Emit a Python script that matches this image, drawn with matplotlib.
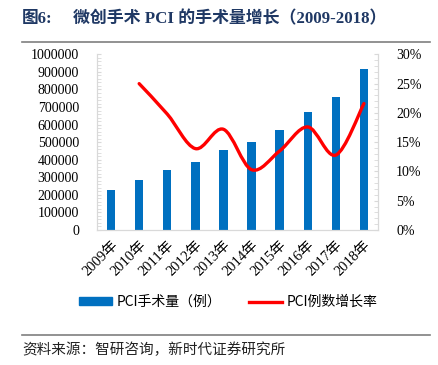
import numpy as np
import matplotlib.pyplot as plt
from matplotlib.path import Path
from matplotlib.patches import PathPatch, Patch
from matplotlib.lines import Line2D
from matplotlib.ticker import MultipleLocator, FuncFormatter

# data
years = ["2009年", "2010年", "2011年", "2012年", "2013年",
         "2014年", "2015年", "2016年", "2017年", "2018年"]
cases = [228000, 285000, 342000, 389000, 456000,
         503000, 570000, 671000, 756000, 917000]
growth = [np.nan, 25.0, 19.8, 13.9, 17.2, 10.3, 13.5, 17.6, 12.8, 21.6]

serif_cjk = ['Liberation Serif', 'Noto Sans CJK SC']
sans_cjk = ['Noto Sans CJK SC', 'DejaVu Sans']
grey = '#D9D9D9'

fig = plt.figure(figsize=(4.38, 3.65), dpi=100)
ax = fig.add_axes([0.2215, 0.370, 0.6415, 0.481])

x = np.arange(len(years))
ax.bar(x, cases, width=0.3, color='#0070C0', zorder=2)
ax.set_xlim(-0.5, len(years) - 0.5)
ax.set_ylim(0, 1000000)
ax.yaxis.set_major_locator(MultipleLocator(100000))
ax.yaxis.set_minor_locator(MultipleLocator(20000))
ax.yaxis.set_major_formatter(FuncFormatter(lambda v, p: "%d" % v))
ax.set_xticks(x)
ax.set_xticklabels(years, rotation=45, ha='right', rotation_mode='anchor',
                   family=serif_cjk, fontsize=10.5)
for lab in ax.get_yticklabels():
    lab.set_family(serif_cjk)
    lab.set_fontsize(10)
ax.tick_params(axis='x', length=0, pad=6)
ax.tick_params(axis='y', which='both', direction='in', length=3, color=grey, pad=13)

# right axis: growth rate as a smoothed line
ax2 = ax.twinx()
ax2.set_ylim(0, 30)
ax2.yaxis.set_major_locator(MultipleLocator(5))
ax2.yaxis.set_minor_locator(MultipleLocator(1))
ax2.yaxis.set_major_formatter(FuncFormatter(lambda v, p: "%d%%" % v))
for lab in ax2.get_yticklabels():
    lab.set_family(serif_cjk)
    lab.set_fontsize(10)
ax2.tick_params(axis='y', which='both', direction='in', length=3, color=grey, pad=13)

gx = x[1:].astype(float)
gy = np.array(growth[1:])
verts = [(gx[0], gy[0])]
codes = [Path.MOVETO]
n = len(gx)
for i in range(n - 1):
    p0 = np.array([gx[max(i - 1, 0)], gy[max(i - 1, 0)]])
    p1 = np.array([gx[i], gy[i]])
    p2 = np.array([gx[i + 1], gy[i + 1]])
    p3 = np.array([gx[min(i + 2, n - 1)], gy[min(i + 2, n - 1)]])
    c1 = p1 + (p2 - p0) / 6
    c2 = p2 - (p3 - p1) / 6
    verts += [tuple(c1), tuple(c2), tuple(p2)]
    codes += [Path.CURVE4] * 3
ax2.add_patch(PathPatch(Path(verts, codes), fill=False, edgecolor='#FF0000',
                        lw=2.4, capstyle='round', joinstyle='round'))

for a in (ax, ax2):
    a.spines['top'].set_visible(False)
    for s in ('left', 'right', 'bottom'):
        a.spines[s].set_color(grey)

# legend under the axis labels
handles = [Patch(color='#0070C0', label='PCI手术量（例）'),
           Line2D([], [], color='#FF0000', lw=2.4, label='PCI例数增长率')]
fig.legend(handles=handles, loc='center', bbox_to_anchor=(228 / 438, 1 - 302 / 365),
           ncol=2, frameon=False, prop={'family': sans_cjk, 'size': 10},
           handlelength=2.4, handleheight=0.5, columnspacing=2.0, handletextpad=0.3)

# title, rules and source note
fig.text(0.05, 0.948, "图6:", family=serif_cjk, fontweight='bold',
         fontsize=12, color='#1F3864', va='center')
fig.text(0.167, 0.948, "微创手术 PCI 的手术量增长（2009-2018）", family=serif_cjk,
         fontweight='bold', fontsize=12.2, color='#1F3864', va='center')
fig.add_artist(Line2D([0.05, 0.982], [0.885, 0.885], color='#7F7F7F', lw=1.2))
fig.add_artist(Line2D([0.05, 0.982], [0.082, 0.082], color='#7F7F7F', lw=1.2))
fig.text(0.05, 0.041, "资料来源：智研咨询，新时代证券研究所", family=sans_cjk,
         fontsize=10.5, color='#222222', va='center')

fig.savefig('out.png', dpi=100)
